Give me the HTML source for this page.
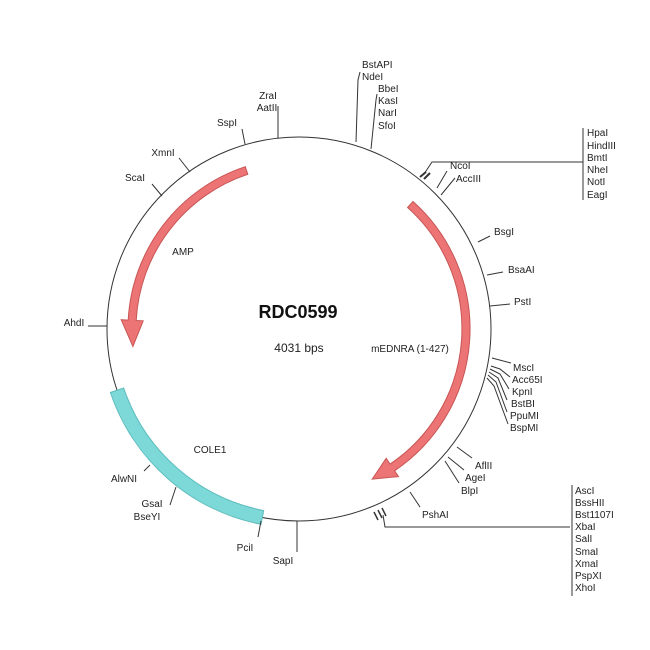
<!DOCTYPE html>
<html><head><meta charset="utf-8"><style>
html,body{margin:0;padding:0;background:#fff;}
svg{display:block;}
text{font-family:"Liberation Sans",sans-serif;font-size:10px;fill:#222;}
</style></head><body>
<svg width="650" height="650" viewBox="0 0 650 650" xmlns="http://www.w3.org/2000/svg">
<rect width="650" height="650" fill="#fff"/>
<circle cx="299" cy="329" r="192" fill="none" stroke="#333" stroke-width="1"/>
<!-- COLE1 -->
<path d="M261.0 524.3 A199 199 0 0 1 110.4 392.5 L123.7 388.0 A185 185 0 0 0 263.7 510.6 Z" fill="#7dd8d8" stroke="#5ebcbc" stroke-width="1"/>
<!-- AMP arrow -->
<path d="M245.3 166.7 A171 171 0 0 0 128.2 320.1 L121.2 319.7 L132.9 346.5 L143.2 320.8 L136.2 320.5 A163 163 0 0 1 247.8 174.3 Z" fill="#ec7474" stroke="#c85555" stroke-width="1"/>
<!-- mEDNRA arrow -->
<path d="M413.0 201.5 A171 171 0 0 1 394.6 470.8 L398.5 476.6 L372.2 479.1 L386.2 458.3 L390.1 464.1 A163 163 0 0 0 407.6 207.5 Z" fill="#ec7474" stroke="#c85555" stroke-width="1"/>

<g stroke="#333" stroke-width="1" fill="none">
<!-- top -->
<polyline points="356,142 358,80 360,72"/>
<polyline points="371,149 376,100 377,94"/>
<line x1="278" y1="138" x2="278" y2="106"/>
<line x1="245" y1="144" x2="242" y2="129"/>
<line x1="190" y1="172" x2="179" y2="158"/>
<line x1="162" y1="196" x2="152" y2="184"/>
<line x1="107" y1="326" x2="88" y2="326"/>
<!-- HpaI group -->
<polyline points="424,174 432,162 583,162"/>
<line x1="583" y1="128" x2="583" y2="200"/>
<line x1="420" y1="177" x2="426" y2="172" stroke-width="2"/>
<line x1="424" y1="179" x2="430" y2="173" stroke-width="2"/>
<line x1="437" y1="188" x2="447" y2="171"/>
<line x1="441" y1="195" x2="455" y2="178"/>
<!-- right -->
<line x1="478" y1="242" x2="490" y2="236"/>
<line x1="487" y1="275" x2="503" y2="272"/>
<line x1="490" y1="306" x2="510" y2="304"/>
<line x1="492" y1="358" x2="511" y2="363"/>
<polyline points="491,366 500,369 510,377"/>
<polyline points="490,369 500,374 509,389"/>
<polyline points="489,372 498,378 507,400"/>
<polyline points="488,375 496,382 507,412"/>
<polyline points="487,378 494,386 508,424"/>
<line x1="457" y1="447" x2="472" y2="458"/>
<line x1="448" y1="457" x2="464" y2="470"/>
<line x1="445" y1="461" x2="459" y2="483"/>
<line x1="410" y1="492" x2="420" y2="507"/>
<!-- AscI group -->
<polyline points="383,515 385,527 570,527"/>
<line x1="572" y1="485" x2="572" y2="596"/>
<line x1="374" y1="512" x2="378" y2="520" stroke-width="1.5"/>
<line x1="378" y1="510" x2="382" y2="518" stroke-width="1.5"/>
<line x1="382" y1="508" x2="386" y2="516" stroke-width="1.5"/>
<!-- bottom -->
<line x1="297" y1="521" x2="297" y2="552"/>
<line x1="261" y1="521" x2="258" y2="537"/>
<line x1="176" y1="487" x2="170" y2="505"/>
<line x1="150" y1="465" x2="144" y2="471"/>
</g>

<g>
<text x="362" y="68">BstAPI</text>
<text x="362" y="80">NdeI</text>
<text x="378" y="92">BbeI</text>
<text x="378" y="104">KasI</text>
<text x="378" y="116">NarI</text>
<text x="378" y="129">SfoI</text>
<text x="268" y="99" text-anchor="middle">ZraI</text>
<text x="267" y="111" text-anchor="middle">AatII</text>
<text x="227" y="126" text-anchor="middle">SspI</text>
<text x="163" y="156" text-anchor="middle">XmnI</text>
<text x="135" y="181" text-anchor="middle">ScaI</text>
<text x="74" y="326" text-anchor="middle">AhdI</text>
<text x="587" y="136">HpaI</text>
<text x="587" y="149">HindIII</text>
<text x="587" y="161">BmtI</text>
<text x="587" y="173">NheI</text>
<text x="587" y="185">NotI</text>
<text x="587" y="198">EagI</text>
<text x="450" y="169">NcoI</text>
<text x="456" y="182">AccIII</text>
<text x="494" y="235">BsgI</text>
<text x="508" y="273">BsaAI</text>
<text x="514" y="305">PstI</text>
<text x="513" y="371">MscI</text>
<text x="512" y="383">Acc65I</text>
<text x="512" y="395">KpnI</text>
<text x="511" y="407">BstBI</text>
<text x="510" y="419">PpuMI</text>
<text x="510" y="431">BspMI</text>
<text x="475" y="469">AflII</text>
<text x="465" y="481">AgeI</text>
<text x="461" y="494">BlpI</text>
<text x="422" y="518">PshAI</text>
<text x="575" y="494">AscI</text>
<text x="575" y="506">BssHII</text>
<text x="575" y="518">Bst1107I</text>
<text x="575" y="530">XbaI</text>
<text x="575" y="542">SalI</text>
<text x="575" y="555">SmaI</text>
<text x="575" y="567">XmaI</text>
<text x="575" y="579">PspXI</text>
<text x="575" y="591">XhoI</text>
<text x="283" y="564" text-anchor="middle">SapI</text>
<text x="245" y="551" text-anchor="middle">PciI</text>
<text x="152" y="507" text-anchor="middle">GsaI</text>
<text x="147" y="520" text-anchor="middle">BseYI</text>
<text x="124" y="482" text-anchor="middle">AlwNI</text>
<text x="183" y="255" text-anchor="middle">AMP</text>
<text x="210" y="453" text-anchor="middle">COLE1</text>
<text x="410" y="352" text-anchor="middle">mEDNRA (1-427)</text>
<text x="298" y="318" text-anchor="middle" style="font-size:18px;font-weight:bold;fill:#111">RDC0599</text>
<text x="299" y="352" text-anchor="middle" style="font-size:12px">4031 bps</text>
</g>
</svg>
</body></html>
